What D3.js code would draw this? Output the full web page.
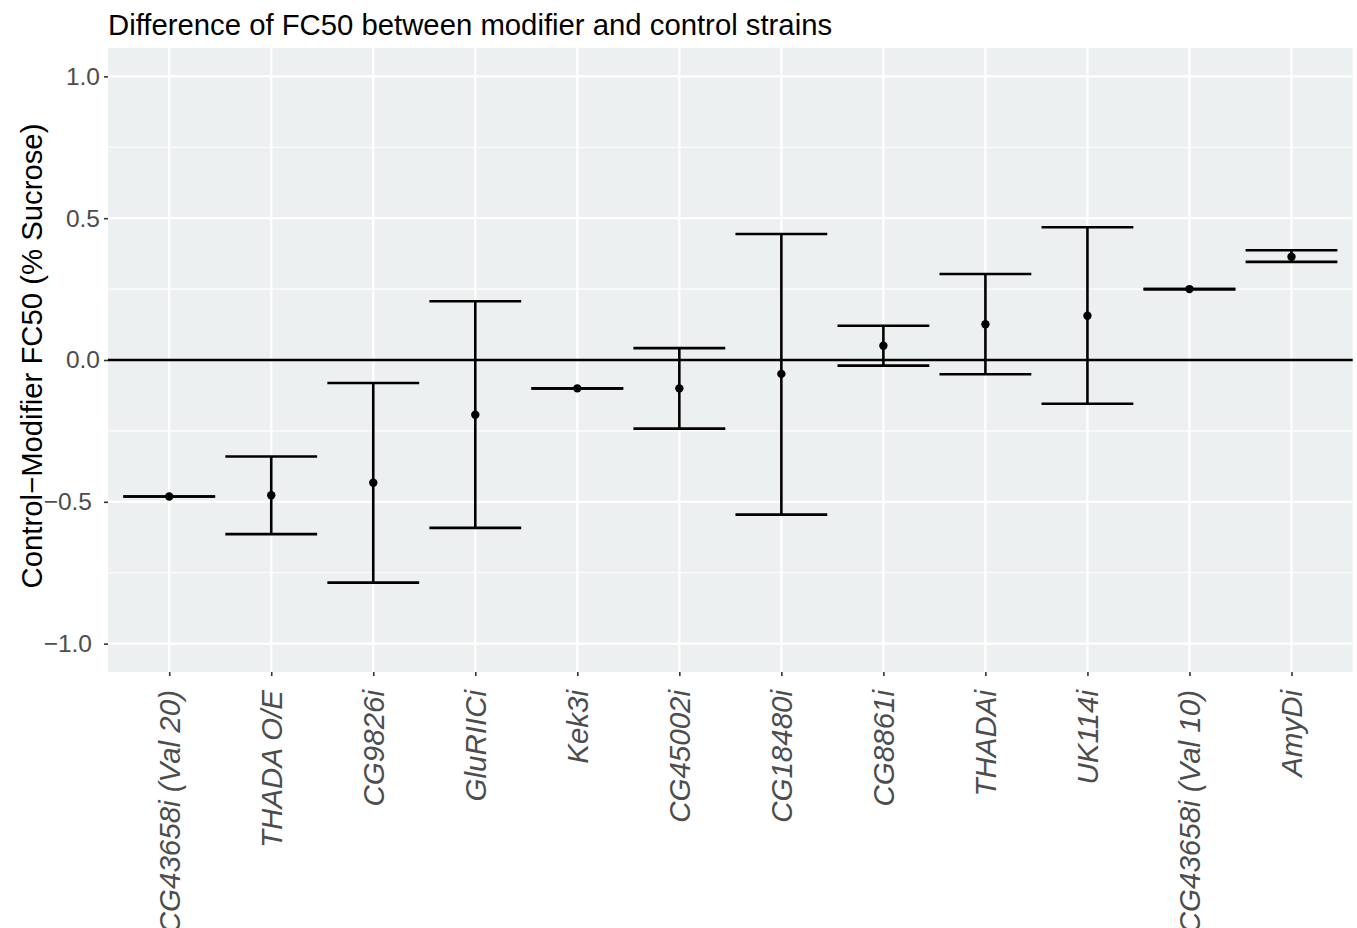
<!DOCTYPE html>
<html>
<head>
<meta charset="utf-8">
<script src="https://cdn.jsdelivr.net/npm/d3@7"></script>
<style>
html,body{margin:0;padding:0;background:#fff;}
svg{display:block;font-family:"Liberation Sans",Arial,sans-serif;}
</style>
</head>
<body>
<svg id="chart" width="1357" height="928"></svg>
<script>
const categories = ["CG43658i (Val 20)","THADA O/E","CG9826i","GluRIICi","Kek3i","CG45002i","CG18480i","CG8861i","THADAi","UK114i","CG43658i (Val 10)","AmyDi"];
const estimate = [-0.481,-0.477,-0.433,-0.193,-0.100,-0.100,-0.049,0.050,0.126,0.156,0.250,0.364];
const lower    = [-0.481,-0.614,-0.785,-0.592,-0.100,-0.242,-0.545,-0.020,-0.050,-0.154,0.250,0.346];
const upper    = [-0.481,-0.340,-0.081,0.207,-0.100,0.042,0.444,0.121,0.303,0.468,0.250,0.387];
const yMajor = [-1.0,-0.5,0.0,0.5,1.0];
const yMinor = [-0.75,-0.25,0.25,0.75];
const yTickLabels = ["\u22121.0","\u22120.5","0.0","0.5","1.0"];
const title = "Difference of FC50 between modifier and control strains";
const yTitle = "Control\u2212Modifier FC50 (% Sucrose)";

const data = categories.map((c,i)=>({cat:c, est:estimate[i], lo:lower[i], hi:upper[i]}));

const svg = d3.select("#chart");
const L=108, R=1352.7, T=48, B=672;

const x = d3.scalePoint().domain(categories).range([L,R]).padding(0.6);
const y = d3.scaleLinear().domain([-1.1,1.1]).range([B,T]);
const step = x.step();

// panel
svg.append("rect").attr("x",L).attr("y",T).attr("width",R-L).attr("height",B-T).attr("fill","#EDF0F1");

const grid = svg.append("g");
grid.selectAll("line.minor").data(yMinor).join("line")
  .attr("x1",L).attr("x2",R).attr("y1",d=>y(d)).attr("y2",d=>y(d))
  .attr("stroke","#fff").attr("stroke-width",1.1);
grid.selectAll("line.majory").data(yMajor).join("line")
  .attr("x1",L).attr("x2",R).attr("y1",d=>y(d)).attr("y2",d=>y(d))
  .attr("stroke","#fff").attr("stroke-width",2.2);
grid.selectAll("line.majorx").data(categories).join("line")
  .attr("y1",T).attr("y2",B).attr("x1",d=>x(d)).attr("x2",d=>x(d))
  .attr("stroke","#fff").attr("stroke-width",2.2);

// zero line
svg.append("line").attr("x1",L).attr("x2",R).attr("y1",y(0)).attr("y2",y(0))
  .attr("stroke","#000").attr("stroke-width",2.5);

// error bars
const eb = svg.append("g").attr("stroke","#000").attr("stroke-width",2.6).attr("fill","none");
data.forEach(d=>{
  const cx = x(d.cat), hw = step*0.45;
  eb.append("line").attr("x1",cx).attr("x2",cx).attr("y1",y(d.lo)).attr("y2",y(d.hi));
  eb.append("line").attr("x1",cx-hw).attr("x2",cx+hw).attr("y1",y(d.lo)).attr("y2",y(d.lo));
  eb.append("line").attr("x1",cx-hw).attr("x2",cx+hw).attr("y1",y(d.hi)).attr("y2",y(d.hi));
});
svg.append("g").selectAll("circle").data(data).join("circle")
  .attr("cx",d=>x(d.cat)).attr("cy",d=>y(d.est)).attr("r",4.2).attr("fill","#000");

// y axis
const yAxis = d3.axisLeft(y).tickValues(yMajor).tickSize(4).tickPadding(4)
  .tickFormat((d,i)=>yTickLabels[i]);
const gy = svg.append("g").attr("transform",`translate(${L},0)`).call(yAxis);
gy.select(".domain").remove();
gy.selectAll(".tick line").attr("stroke","#333").attr("stroke-width",1.6);
gy.selectAll(".tick text").attr("fill","#4D4D4D").attr("font-size",24.5)
  .attr("font-family","Liberation Sans, Arial, sans-serif")
  .attr("dx",d=>d<0?-8:0);

// x axis
const xAxis = d3.axisBottom(x).tickSize(4).tickPadding(6);
const gx = svg.append("g").attr("transform",`translate(0,${B})`).call(xAxis);
gx.select(".domain").remove();
gx.selectAll(".tick line").attr("stroke","#333").attr("stroke-width",1.6);
gx.selectAll(".tick text").attr("fill","#4D4D4D").attr("font-size",29.5)
  .attr("font-style","italic")
  .attr("font-family","Liberation Sans, Arial, sans-serif")
  .attr("text-anchor","end")
  .attr("transform","rotate(-90)")
  .attr("x",-18).attr("y",0).attr("dy","0.35em");

// titles
svg.append("text").attr("x",L).attr("y",35).attr("font-size",29.3).attr("fill","#000")
  .text(title);
svg.append("text").attr("transform",`translate(42,356) rotate(-90)`)
  .attr("text-anchor","middle").attr("font-size",29.3).attr("fill","#000")
  .text(yTitle);
</script>
</body>
</html>
